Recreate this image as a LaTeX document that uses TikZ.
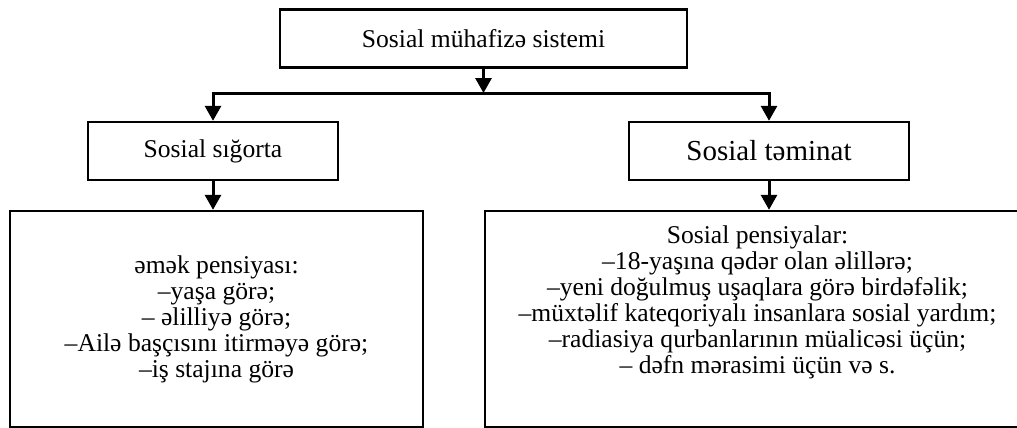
\documentclass[tikz,border=0pt]{standalone}
\usepackage{fontspec}
\setmainfont{Liberation Serif}
\usetikzlibrary{arrows.meta}

\begin{document}
\begin{tikzpicture}[
 x=0.5pt,y=0.5pt,
 every node/.style={align=center,font=\fontsize{12.8}{13}\selectfont},
 pbox/.style={draw=black,line width=1.2pt,inner sep=0pt,minimum height=29pt},
 plist/.style={pbox,minimum height=108pt},
 pflow/.style={-{Triangle[length=7.5pt,width=8pt]},draw=black,line width=1.5pt}]
\clip[use as bounding box] (0,0) rectangle (1017,-428);
\node[pbox,minimum width=203.5pt] (system) at (483.5,-38.5) {Sosial mühafizə sistemi};
\node[pbox,minimum width=125pt] (insur) at (213,-151) {Sosial sığorta};
\node[pbox,minimum width=140pt,font=\fontsize{14.5}{14}\selectfont] (guar) at (769,-151) {Sosial təminat};
\node[plist,minimum width=206.5pt] (labour) at (216.5,-319) {əmək pensiyası:\\
–yaşa görə;\\
– əlilliyə görə;\\
–Ailə başçısını itirməyə görə;\\
–iş stajına görə};
\node[plist,minimum width=272.5pt] (social) at (757.5,-319) {Sosial pensiyalar:\\
–18-yaşına qədər olan əlillərə;\\
–yeni doğulmuş uşaqlara görə birdəfəlik;\\
–müxtəlif kateqoriyalı insanlara sosial yardım;\\
–radiasiya qurbanlarının müalicəsi üçün;\\
– dəfn mərasimi üçün və s.\\[6pt]\mbox{}};
\coordinate (split) at (483.5,-93);
\draw[pflow] (system.south) -- (split);
\draw[pflow] (split) -| (insur.north);
\draw[pflow] (split) -| (guar.north);
\draw[pflow] (insur.south) -- (insur.south |- labour.north);
\draw[pflow] (guar.south) -- (guar.south |- social.north);
\end{tikzpicture}
\end{document}
